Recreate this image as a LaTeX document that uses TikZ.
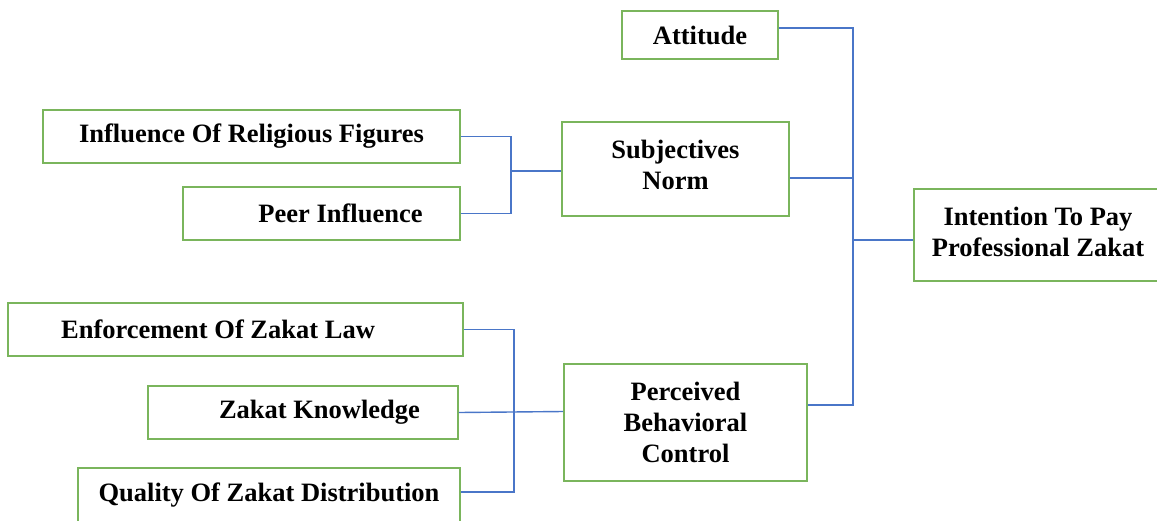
\documentclass[tikz,border=0pt]{standalone}
\usepackage{fontspec}
\setmainfont{Liberation Serif}
\definecolor{boxgreen}{HTML}{7AB55C}
\definecolor{linkblue}{HTML}{4A76C8}
\tikzset{
  box/.style={draw=boxgreen, line width=1.8pt, fill=white, inner xsep=0pt, inner ysep=0pt,
    align=center, font=\fontsize{26.5}{31}\selectfont\bfseries},
  link/.style={draw=linkblue, line width=1.4pt}
}
\begin{document}
\begin{tikzpicture}[x=1pt,y=-1pt]
\useasboundingbox (0,0) rectangle (1157,520);
% boxes
\node[box, minimum width=156pt, minimum height=48pt] (att) at (700,35) {Attitude};
\node[box, minimum width=417pt, minimum height=53pt] (inf) at (251.5,136.5) {Influence Of Religious Figures};
\node[box, minimum width=277pt, minimum height=53pt] (peer) at (321.5,213.5) {\hspace*{38pt}Peer Influence};
\node[box, minimum width=227pt, minimum height=94pt] (sn) at (675.5,169) {Subjectives\\Norm\\[-23pt]};
\node[box, minimum width=248pt, minimum height=92pt] (int) at (1038,235) {Intention To Pay\\Professional Zakat\\[-25pt]};
\node[box, minimum width=455pt, minimum height=53pt] (enf) at (235.5,329.5) {\hspace*{-35pt}Enforcement Of Zakat Law};
\node[box, minimum width=310pt, minimum height=53pt] (zk) at (303,412.5) {\hspace*{33pt}Zakat Knowledge};
\node[box, minimum width=382pt, minimum height=54pt] (qual) at (269,495) {Quality Of Zakat Distribution};
\node[box, minimum width=243pt, minimum height=117pt] (pbc) at (685.5,422.5) {Perceived\\Behavioral\\Control};
% junction columns
\coordinate (spine) at (853,0);
\coordinate (jA) at (511,0);
\coordinate (jB) at (514,0);
\coordinate (attout) at ([yshift=7pt]att.east);
\coordinate (snout) at ([yshift=-9pt]sn.east);
\coordinate (pbcout) at ([yshift=17.5pt]pbc.east);
\coordinate (intin) at ([yshift=-5pt]int.west);
\coordinate (snin) at ([yshift=-2pt]sn.west);
\coordinate (pbcin) at ([yshift=11pt]pbc.west);
\coordinate (qualout) at ([yshift=3pt]qual.east);
% right connectors
\draw[link] (attout) -| (spine |- pbcout) -- (pbcout);
\draw[link] (snout) -- (spine |- snout);
\draw[link] (spine |- intin) -- (intin);
% upper left
\draw[link] (inf.east) -| (jA |- peer.east) -- (peer.east);
\draw[link] (jA |- snin) -- (snin);
% lower left
\draw[link] (enf.east) -| (jB |- qualout) -- (qualout);
\draw[link] (zk.east) -- (pbcin);
\end{tikzpicture}
\end{document}
